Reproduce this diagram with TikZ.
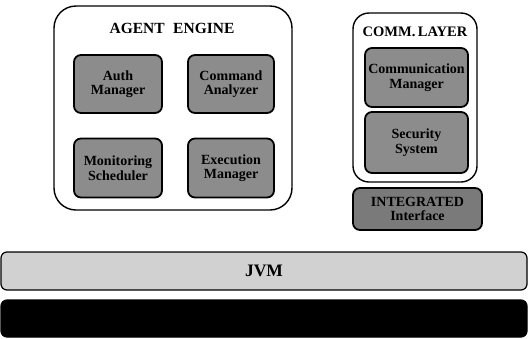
\documentclass[tikz,border=0pt]{standalone}
\usepackage{fontspec}
\setmainfont{Liberation Serif}
\begin{document}
\begin{tikzpicture}[x=1pt,y=-1pt,
  outerbox/.style={draw=black,line width=1.4pt,fill=white,rounded corners=22pt},
  modbox/.style={draw=black,line width=1.8pt,fill=black!45,rounded corners=7pt,
    align=center,font=\bfseries\fontsize{14}{14.5}\selectfont,text=black,inner sep=0pt},
  titletext/.style={font=\bfseries\fontsize{14.5}{16}\selectfont},
  barbox/.style={draw=black,line width=1.2pt,rounded corners=6pt}]
\useasboundingbox (0,0) rectangle (528,338);

% agent engine container
\draw[outerbox] (54,6) rectangle (292,210);
\node[titletext,font=\bfseries\fontsize{15.5}{16}\selectfont] (aetitle) at (172,28) {AGENT\hspace{0.55em}ENGINE};
\node[modbox,minimum width=88pt,minimum height=58pt] (auth) at (118,84) {Auth\\Manager};
\node[modbox,minimum width=86pt,minimum height=58pt] (cmd) at (231,84) {Command\\Analyzer};
\node[modbox,minimum width=88pt,minimum height=59pt] (mon) at (118,168) {Monitoring\\Scheduler};
\node[modbox,minimum width=86pt,minimum height=59pt] (exec) at (231,168) {Execution\\Manager};

% communication layer container
\draw[outerbox,rounded corners=16pt] (353,13) rectangle (477,182);
\node[titletext] (cltitle) at (415,32) {COMM.\,LAYER};
\node[modbox,minimum width=103pt,minimum height=59pt] (comm) at (416.5,77.5) {Communication\\Manager};
\node[modbox,minimum width=103pt,minimum height=61pt] (sec) at (416.5,142.5) {Security\\System};

% integrated interface
\node[modbox,fill=black!52,minimum width=129pt,minimum height=42pt] (integ) at (417.5,209) {INTEGRATED\\Interface};

% JVM and base layer
\node[barbox,fill=black!18,minimum width=526pt,minimum height=38pt,inner sep=0pt,
  font=\bfseries\fontsize{17.5}{19}\selectfont] (jvm) at (264,271) {JVM};
\node[barbox,fill=black,minimum width=526pt,minimum height=37pt,inner sep=0pt] (base) at (264,318.5) {};
\end{tikzpicture}
\end{document}
